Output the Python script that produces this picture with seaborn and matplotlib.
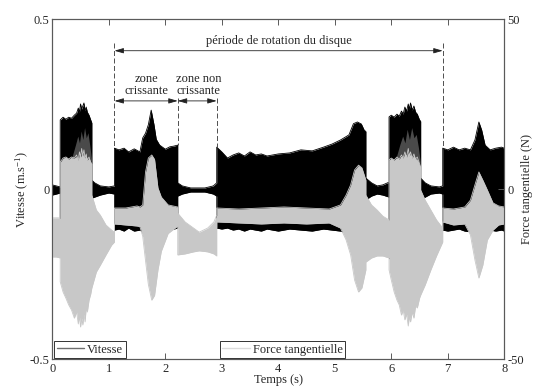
import numpy as np
import pandas as pd
import matplotlib
matplotlib.use("Agg")
import matplotlib.pyplot as plt
from matplotlib.lines import Line2D
import seaborn as sns

# ---------------- data (envelopes) ----------------
# Vitesse (m/s): time, upper and lower envelope of the dense oscillation
vit_t = [0.00, 0.07, 0.14,
         0.14, 0.19, 0.24, 0.29, 0.34, 0.39, 0.43, 0.46, 0.48, 0.50, 0.52, 0.54, 0.56, 0.58, 0.60, 0.62, 0.65, 0.68, 0.70,
         0.70, 0.75, 0.85, 1.00, 1.10,
         1.10, 1.18, 1.27, 1.35, 1.45, 1.55, 1.60, 1.65, 1.70, 1.75, 1.80, 1.84, 1.90, 2.00, 2.08, 2.15, 2.22,
         2.22, 2.30, 2.45, 2.70, 2.85, 2.91,
         2.91, 3.00, 3.10, 3.20, 3.30, 3.40, 3.50, 3.60, 3.70, 3.80, 3.90, 4.00, 4.20, 4.40, 4.60,
         4.80, 4.95, 5.10, 5.25, 5.33, 5.40, 5.47, 5.52, 5.55,
         5.55, 5.65, 5.75, 5.85, 5.96,
         5.96, 6.00, 6.05, 6.10, 6.14, 6.18, 6.21, 6.24, 6.27, 6.30, 6.32, 6.34, 6.37, 6.40, 6.43, 6.46, 6.50, 6.52,
         6.52, 6.60, 6.70, 6.85, 6.91,
         6.91, 7.00, 7.10, 7.20, 7.30, 7.40, 7.48, 7.55, 7.60, 7.66, 7.75, 7.85, 7.95, 8.00]
vit_hi = [0.013, 0.010, 0.007,
          0.204, 0.212, 0.206, 0.212, 0.209, 0.218, 0.224, 0.239, 0.227, 0.251, 0.236, 0.245, 0.254, 0.231, 0.242, 0.227, 0.218, 0.204, 0.195,
          0.027, 0.019, 0.010, 0.007, 0.010,
          0.121, 0.116, 0.121, 0.110, 0.119, 0.110, 0.151, 0.165, 0.190, 0.233, 0.190, 0.147, 0.130, 0.118, 0.125, 0.127, 0.130,
          0.019, 0.010, 0.004, 0.004, 0.010, 0.019,
          0.124, 0.110, 0.092, 0.101, 0.107, 0.098, 0.110, 0.101, 0.104, 0.098, 0.101, 0.104, 0.107, 0.116, 0.113,
          0.124, 0.133, 0.145, 0.160, 0.193, 0.198, 0.192, 0.174, 0.170,
          0.033, 0.019, 0.010, 0.013, 0.021,
          0.213, 0.218, 0.212, 0.221, 0.215, 0.230, 0.221, 0.242, 0.230, 0.251, 0.236, 0.254, 0.233, 0.245, 0.227, 0.221, 0.204, 0.200,
          0.033, 0.019, 0.010, 0.007, 0.010,
          0.121, 0.116, 0.124, 0.116, 0.121, 0.116, 0.145, 0.198, 0.174, 0.130, 0.116, 0.121, 0.124, 0.121]
vit_lo = [-0.017, -0.014, -0.011,
          -0.20, -0.20, -0.21, -0.21, -0.21, -0.22, -0.22, -0.23, -0.23, -0.24, -0.24, -0.24, -0.24, -0.23, -0.23, -0.22, -0.21, -0.20, -0.19,
          -0.026, -0.023, -0.017, -0.011, -0.014,
          -0.120, -0.117, -0.123, -0.114, -0.123, -0.120, -0.125, -0.15, -0.18, -0.20, -0.18, -0.15, -0.12, -0.117, -0.120, -0.117, -0.114,
          -0.020, -0.014, -0.008, -0.008, -0.014, -0.020,
          -0.114, -0.117, -0.114, -0.120, -0.117, -0.123, -0.117, -0.120, -0.123, -0.117, -0.120, -0.123, -0.117, -0.120, -0.123,
          -0.117, -0.120, -0.123, -0.13, -0.16, -0.18, -0.17, -0.15, -0.14,
          -0.031, -0.020, -0.014, -0.017, -0.023,
          -0.20, -0.21, -0.21, -0.21, -0.22, -0.22, -0.22, -0.23, -0.23, -0.24, -0.24, -0.24, -0.24, -0.23, -0.22, -0.22, -0.20, -0.20,
          -0.031, -0.023, -0.014, -0.011, -0.014,
          -0.120, -0.123, -0.120, -0.117, -0.123, -0.125, -0.15, -0.18, -0.16, -0.13, -0.120, -0.123, -0.120, -0.123]

# Force tangentielle (N): time, upper and lower envelope
force_t = [0.00, 0.07, 0.14,
           0.14, 0.19, 0.24, 0.29, 0.34, 0.39, 0.43, 0.46, 0.48, 0.50, 0.52, 0.54, 0.56, 0.58, 0.60, 0.62, 0.65, 0.68, 0.70,
           0.70, 0.78, 0.85, 0.95, 1.05, 1.10,
           1.10, 1.30, 1.50, 1.55, 1.60, 1.65, 1.70, 1.76, 1.81, 1.87, 1.93, 2.05, 2.22,
           2.22, 2.35, 2.50, 2.60, 2.75, 2.86, 2.91,
           2.91, 3.30, 3.70, 4.10, 4.50, 4.90, 5.10, 5.20, 5.28, 5.35, 5.42, 5.48, 5.55,
           5.55, 5.65, 5.75, 5.85, 5.96,
           5.96, 6.00, 6.05, 6.10, 6.14, 6.18, 6.21, 6.24, 6.27, 6.30, 6.32, 6.34, 6.37, 6.40, 6.43, 6.46, 6.50, 6.52,
           6.52, 6.60, 6.70, 6.80, 6.91,
           6.91, 7.10, 7.30, 7.40, 7.48, 7.55, 7.62, 7.70, 7.80, 7.90, 8.00]
force_hi = [-8.4, -8.4, -8.4,
            8.0, 9.2, 9.5, 8.9, 9.5, 9.2, 10.1, 8.6, 11.0, 9.5, 12.0, 9.8, 11.6, 9.2, 10.4, 8.6, 9.5, 8.0, 7.5,
            -1.7, -6.1, -7.6, -10.5, -12.0, -12.6,
            -5.5, -5.5, -4.9, -5.2, -4.6, 5.1, 9.2, 10.1, 8.8, 0.4, -2.3, -4.6, -5.2,
            -7.0, -9.6, -11.4, -12.6, -11.4, -9.6, -7.6,
            -5.5, -5.8, -5.5, -5.2, -5.5, -5.8, -4.6, -1.7, 1.3, 5.7, 7.1, 6.3, 2.7,
            -1.7, -4.6, -6.1, -7.9, -9.0,
            8.6, 9.2, 8.6, 9.5, 8.9, 10.1, 9.2, 11.0, 9.5, 12.0, 9.8, 11.0, 9.2, 10.4, 8.9, 9.5, 7.5, 6.5,
            -0.2, -3.2, -6.1, -9.0, -11.4,
            -5.5, -5.8, -5.2, -3.2, 1.3, 5.1, 2.7, -0.2, -4.0, -4.9, -5.2]
force_lo = [-19.9, -19.9, -20.2,
            -27.2, -30.2, -32.0, -34.0, -35.5, -37.9, -36.1, -39.6, -37.3, -40.5, -37.9, -39.9, -36.7, -39.0, -34.9, -36.1, -32.6, -30.8, -29.0,
            -29.0, -24.3, -22.3, -19.3, -16.4, -15.5,
            -10.2, -10.5, -10.8, -11.0, -13.8, -21.0, -28.0, -32.6, -31.2, -23.7, -18.2, -13.0, -10.8,
            -19.3, -19.0, -18.4, -18.1, -18.4, -19.0, -19.6,
            -9.6, -9.9, -10.2, -9.9, -10.2, -9.9, -11.4, -14.9, -19.3, -26.7, -30.2, -29.0, -23.7,
            -21.4, -20.2, -19.6, -19.6, -20.2,
            -23.7, -26.7, -30.2, -32.6, -34.0, -37.0, -35.5, -38.4, -36.7, -40.2, -37.3, -39.0, -36.1, -37.9, -34.3, -34.9, -32.0, -31.1,
            -31.1, -28.1, -23.7, -19.6, -15.5,
            -9.6, -10.5, -10.2, -13.4, -20.8, -26.1, -22.3, -14.9, -12.0, -10.5, -10.2]

# dark-grey zone where both dense signals overlap (force axis, N); NaN separates blocks
overlap_t = [0.36, 0.42, 0.46, 0.49, 0.52, 0.55, 0.58, 0.61, 0.64, 0.67, 0.70, np.nan,
             6.10, 6.16, 6.21, 6.25, 6.29, 6.33, 6.37, 6.41, 6.45, 6.49, 6.52]
overlap_hi = [9.5, 13.0, 15.5, 13.5, 17.0, 14.5, 18.0, 15.0, 16.5, 13.0, 9.0, np.nan,
              9.5, 13.0, 15.5, 13.5, 17.5, 14.5, 18.0, 15.0, 16.0, 12.0, 8.0]
overlap_lo = [9.0, 9.5, 9.0, 10.5, 9.5, 11.0, 9.2, 10.0, 8.8, 9.0, 7.5, np.nan,
              9.0, 9.5, 9.5, 10.5, 10.0, 11.0, 9.5, 10.0, 9.0, 8.0, 6.5]

x_ticks = [0, 1, 2, 3, 4, 5, 6, 7, 8]
left_ticks = [-0.5, 0, 0.5]
right_ticks = [-50, 0, 50]
left_ticklabels = ["-0.5", "0", "0.5"]
right_ticklabels = ["-50", "0", "50"]

# annotation positions (time in s)
t_rot_start, t_rot_end = 1.10, 6.91
t_zone_split, t_zone_end = 2.22, 2.91

# ---------------- style ----------------
sns.set_theme(style="ticks")
plt.rcParams["font.family"] = ["Liberation Serif", "DejaVu Serif"]
plt.rcParams["mathtext.fontset"] = "custom"
plt.rcParams["mathtext.rm"] = "Liberation Serif"
plt.rcParams["mathtext.it"] = "Liberation Serif:italic"
FS = 9

fig = plt.figure(figsize=(5.35, 3.87), dpi=100)
ax = fig.add_axes([52.3 / 535, 1 - 359.3 / 387, (504.3 - 52.3) / 535, 340 / 387])
ax2 = ax.twinx()

BLACK = "#000000"
GRAY = "#c8c8c8"
DARK = "#4a4a4a"

vit = pd.DataFrame({"t": vit_t, "hi": vit_hi, "lo": vit_lo})
frc = pd.DataFrame({"t": force_t, "hi": force_hi, "lo": force_lo})
ovl = pd.DataFrame({"t": overlap_t, "hi": overlap_hi, "lo": overlap_lo})

ax.fill_between(vit["t"], vit["lo"], vit["hi"], color=BLACK, lw=0)
sns.lineplot(data=vit, x="t", y="hi", ax=ax, color=BLACK, lw=0.6, estimator=None, sort=False)
sns.lineplot(data=vit, x="t", y="lo", ax=ax, color=BLACK, lw=0.6, estimator=None, sort=False)

ax2.fill_between(frc["t"], frc["lo"], frc["hi"], color=GRAY, lw=0)
sns.lineplot(data=frc, x="t", y="hi", ax=ax2, color=GRAY, lw=0.6, estimator=None, sort=False)
sns.lineplot(data=frc, x="t", y="lo", ax=ax2, color=GRAY, lw=0.6, estimator=None, sort=False)
ax2.fill_between(ovl["t"], ovl["lo"], ovl["hi"], color=DARK, lw=0)

ax.set_xlim(0, 8)
ax.set_ylim(-0.5, 0.5)
ax2.set_ylim(-50, 50)

ax.set_xticks(x_ticks)
ax.set_xticklabels([str(v) for v in x_ticks], fontsize=FS)
ax.set_yticks(left_ticks)
ax.set_yticklabels(left_ticklabels, fontsize=FS)
ax2.set_yticks(right_ticks)
ax2.set_yticklabels(right_ticklabels, fontsize=FS)

SPINE = "#5a5a5a"
for a in (ax, ax2):
    for s in a.spines.values():
        s.set_color(SPINE)
        s.set_linewidth(0.8)
ax.tick_params(axis="x", direction="in", top=True, length=4, width=0.7, color=SPINE, pad=3, labelsize=FS)
ax.tick_params(axis="y", direction="in", length=4, width=0.7, color=SPINE, pad=2, labelsize=FS, right=False)
ax2.tick_params(axis="y", direction="in", length=4, width=0.7, color=SPINE, pad=2, labelsize=FS)

ax.set_xlabel("Temps (s)", fontsize=FS)
ax.xaxis.set_label_coords(0.5, -0.044)
ax.set_ylabel("Vitesse (m.s$^{\\mathregular{-1}}$)", fontsize=FS)
ax.yaxis.set_label_coords(-0.048, 0.5)
ax2.set_ylabel("Force tangentielle (N)", fontsize=FS)
ax2.yaxis.set_label_coords(1.036, 0.5)

# ---------------- annotations ----------------
dash = dict(color="#333333", lw=0.6, ls=(0, (6, 3)))
ax.plot([t_rot_start, t_rot_start], [0.43, 0.121], **dash)
ax.plot([t_rot_end, t_rot_end], [0.43, 0.121], **dash)
ax.plot([t_zone_split, t_zone_split], [0.27, 0.13], **dash)
ax.plot([t_zone_end, t_zone_end], [0.27, 0.124], **dash)

arr = dict(arrowstyle="<|-|>,head_length=0.45,head_width=0.13", lw=0.6, color="#222222",
           shrinkA=0, shrinkB=0)
ax.annotate("", xy=(t_rot_start, 0.4076), xytext=(t_rot_end, 0.4076), arrowprops=arr)
ax.annotate("", xy=(t_rot_start, 0.26), xytext=(t_zone_split, 0.26), arrowprops=arr)
ax.annotate("", xy=(t_zone_split, 0.26), xytext=(t_zone_end, 0.26), arrowprops=arr)

ax.text((t_rot_start + t_rot_end) / 2, 0.437, "période de rotation du disque",
        ha="center", va="center", fontsize=FS)
ax.text((t_rot_start + t_zone_split) / 2, 0.308, "zone\ncrissante", ha="center", va="center",
        fontsize=FS, linespacing=1.0)
ax.text((t_zone_split + t_zone_end) / 2 + 0.02, 0.308, "zone non\ncrissante", ha="center", va="center",
        fontsize=FS, linespacing=1.0)

# ---------------- legends ----------------
lg1 = ax2.legend(handles=[Line2D([], [], color="#6e6e6e", lw=1.0)], labels=["Vitesse"],
                 loc="lower left", bbox_to_anchor=(0.004, 0.003), borderaxespad=0,
                 fancybox=False, framealpha=1, edgecolor="#333333", fontsize=FS,
                 handlelength=2.2, handletextpad=0.25, borderpad=0.2)
lg1.get_frame().set_linewidth(0.7)
ax2.add_artist(lg1)
lg2 = ax2.legend(handles=[Line2D([], [], color="#dcdcdc", lw=1.0)], labels=["Force tangentielle"],
                 loc="lower left", bbox_to_anchor=(0.371, 0.003), borderaxespad=0,
                 fancybox=False, framealpha=1, edgecolor="#333333", fontsize=FS,
                 handlelength=2.2, handletextpad=0.25, borderpad=0.2)
lg2.get_frame().set_linewidth(0.7)

fig.savefig("out.png", dpi=100)
